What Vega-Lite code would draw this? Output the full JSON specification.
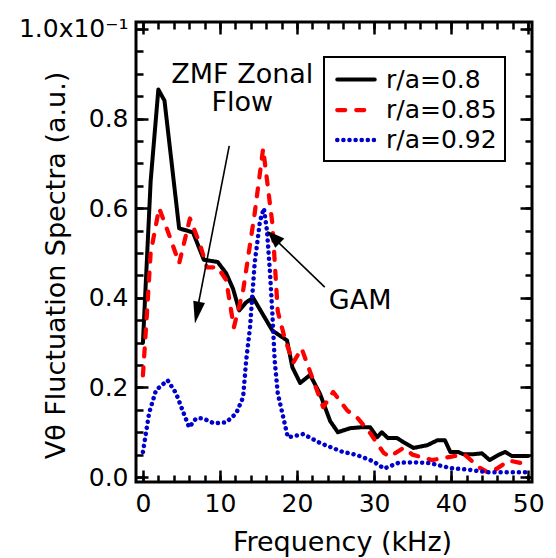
{
  "$schema": "https://vega.github.io/schema/vega-lite/v6.json",
  "width": 396,
  "height": 460,
  "autosize": {"type": "none"},
  "padding": {"left": 136, "top": 22, "right": 24, "bottom": 76},
  "background": "white",
  "config": {
    "view": {"stroke": "black", "strokeWidth": 3},
    "font": "DejaVu Sans",
    "axis": {
      "grid": false,
      "domain": false,
      "tickColor": "black",
      "tickWidth": 2.5,
      "labelColor": "black",
      "titleColor": "black",
      "labelFont": "DejaVu Sans",
      "titleFont": "DejaVu Sans",
      "labelFontSize": 25,
      "titleFontSize": 27,
      "titleFontWeight": "normal",
      "labelFlush": false,
      "labelOverlap": false
    }
  },
  "datasets": {
    "spec": [
      {"s": "r/a=0.8", "f": 0, "v": 0.30},
      {"s": "r/a=0.8", "f": 0.5, "v": 0.48},
      {"s": "r/a=0.8", "f": 1.0, "v": 0.66},
      {"s": "r/a=0.8", "f": 2.0, "v": 0.865},
      {"s": "r/a=0.8", "f": 2.8, "v": 0.84},
      {"s": "r/a=0.8", "f": 4.7, "v": 0.555},
      {"s": "r/a=0.8", "f": 6.5, "v": 0.546},
      {"s": "r/a=0.8", "f": 7.9, "v": 0.485},
      {"s": "r/a=0.8", "f": 9.7, "v": 0.48},
      {"s": "r/a=0.8", "f": 10.8, "v": 0.455},
      {"s": "r/a=0.8", "f": 11.7, "v": 0.42},
      {"s": "r/a=0.8", "f": 12.5, "v": 0.372},
      {"s": "r/a=0.8", "f": 13.4, "v": 0.39},
      {"s": "r/a=0.8", "f": 14.3, "v": 0.40},
      {"s": "r/a=0.8", "f": 16.8, "v": 0.327},
      {"s": "r/a=0.8", "f": 18.7, "v": 0.305},
      {"s": "r/a=0.8", "f": 19.4, "v": 0.245},
      {"s": "r/a=0.8", "f": 20.4, "v": 0.21},
      {"s": "r/a=0.8", "f": 21.7, "v": 0.228},
      {"s": "r/a=0.8", "f": 23.0, "v": 0.185},
      {"s": "r/a=0.8", "f": 24.3, "v": 0.125},
      {"s": "r/a=0.8", "f": 25.3, "v": 0.10},
      {"s": "r/a=0.8", "f": 26.9, "v": 0.109},
      {"s": "r/a=0.8", "f": 28.2, "v": 0.111},
      {"s": "r/a=0.8", "f": 29.5, "v": 0.111},
      {"s": "r/a=0.8", "f": 30.4, "v": 0.089},
      {"s": "r/a=0.8", "f": 31.0, "v": 0.10},
      {"s": "r/a=0.8", "f": 31.8, "v": 0.087},
      {"s": "r/a=0.8", "f": 33.0, "v": 0.087},
      {"s": "r/a=0.8", "f": 33.8, "v": 0.078},
      {"s": "r/a=0.8", "f": 35.1, "v": 0.065},
      {"s": "r/a=0.8", "f": 36.9, "v": 0.071},
      {"s": "r/a=0.8", "f": 38.2, "v": 0.082},
      {"s": "r/a=0.8", "f": 39.2, "v": 0.082},
      {"s": "r/a=0.8", "f": 39.9, "v": 0.056},
      {"s": "r/a=0.8", "f": 40.9, "v": 0.056},
      {"s": "r/a=0.8", "f": 41.6, "v": 0.051},
      {"s": "r/a=0.8", "f": 42.9, "v": 0.051},
      {"s": "r/a=0.8", "f": 44.0, "v": 0.053},
      {"s": "r/a=0.8", "f": 45.0, "v": 0.038},
      {"s": "r/a=0.8", "f": 46.1, "v": 0.049},
      {"s": "r/a=0.8", "f": 47.0, "v": 0.056},
      {"s": "r/a=0.8", "f": 47.9, "v": 0.047},
      {"s": "r/a=0.8", "f": 50.0, "v": 0.047},

      {"s": "r/a=0.85", "f": 0, "v": 0.227},
      {"s": "r/a=0.85", "f": 0.5, "v": 0.36},
      {"s": "r/a=0.85", "f": 1.0, "v": 0.50},
      {"s": "r/a=0.85", "f": 2.1, "v": 0.60},
      {"s": "r/a=0.85", "f": 3.2, "v": 0.55},
      {"s": "r/a=0.85", "f": 4.7, "v": 0.477},
      {"s": "r/a=0.85", "f": 6.1, "v": 0.577},
      {"s": "r/a=0.85", "f": 7.4, "v": 0.52},
      {"s": "r/a=0.85", "f": 8.3, "v": 0.468},
      {"s": "r/a=0.85", "f": 9.7, "v": 0.468},
      {"s": "r/a=0.85", "f": 10.8, "v": 0.44},
      {"s": "r/a=0.85", "f": 11.8, "v": 0.334},
      {"s": "r/a=0.85", "f": 13.0, "v": 0.416},
      {"s": "r/a=0.85", "f": 14.5, "v": 0.588},
      {"s": "r/a=0.85", "f": 15.6, "v": 0.733},
      {"s": "r/a=0.85", "f": 16.8, "v": 0.566},
      {"s": "r/a=0.85", "f": 17.5, "v": 0.37},
      {"s": "r/a=0.85", "f": 18.4, "v": 0.31},
      {"s": "r/a=0.85", "f": 19.5, "v": 0.255},
      {"s": "r/a=0.85", "f": 20.6, "v": 0.287},
      {"s": "r/a=0.85", "f": 22.1, "v": 0.216},
      {"s": "r/a=0.85", "f": 23.4, "v": 0.156},
      {"s": "r/a=0.85", "f": 24.7, "v": 0.19},
      {"s": "r/a=0.85", "f": 26.5, "v": 0.149},
      {"s": "r/a=0.85", "f": 27.9, "v": 0.131},
      {"s": "r/a=0.85", "f": 29.5, "v": 0.098},
      {"s": "r/a=0.85", "f": 31.2, "v": 0.055},
      {"s": "r/a=0.85", "f": 32.0, "v": 0.045},
      {"s": "r/a=0.85", "f": 33.8, "v": 0.065},
      {"s": "r/a=0.85", "f": 35.0, "v": 0.05},
      {"s": "r/a=0.85", "f": 37.5, "v": 0.038},
      {"s": "r/a=0.85", "f": 39.9, "v": 0.045},
      {"s": "r/a=0.85", "f": 41.7, "v": 0.051},
      {"s": "r/a=0.85", "f": 43.6, "v": 0.022},
      {"s": "r/a=0.85", "f": 45.0, "v": 0.008},
      {"s": "r/a=0.85", "f": 47.5, "v": 0.037},
      {"s": "r/a=0.85", "f": 49.4, "v": 0.03},
      {"s": "r/a=0.85", "f": 50.0, "v": 0.025},

      {"s": "r/a=0.92", "f": 0, "v": 0.056},
      {"s": "r/a=0.92", "f": 0.8, "v": 0.143},
      {"s": "r/a=0.92", "f": 1.7, "v": 0.194},
      {"s": "r/a=0.92", "f": 3.2, "v": 0.216},
      {"s": "r/a=0.92", "f": 4.3, "v": 0.187},
      {"s": "r/a=0.92", "f": 5.3, "v": 0.142},
      {"s": "r/a=0.92", "f": 6.0, "v": 0.111},
      {"s": "r/a=0.92", "f": 6.9, "v": 0.131},
      {"s": "r/a=0.92", "f": 7.8, "v": 0.131},
      {"s": "r/a=0.92", "f": 9.2, "v": 0.12},
      {"s": "r/a=0.92", "f": 10.8, "v": 0.122},
      {"s": "r/a=0.92", "f": 12.1, "v": 0.142},
      {"s": "r/a=0.92", "f": 13.0, "v": 0.178},
      {"s": "r/a=0.92", "f": 13.4, "v": 0.26},
      {"s": "r/a=0.92", "f": 13.9, "v": 0.334},
      {"s": "r/a=0.92", "f": 14.5, "v": 0.477},
      {"s": "r/a=0.92", "f": 15.2, "v": 0.572},
      {"s": "r/a=0.92", "f": 15.7, "v": 0.60},
      {"s": "r/a=0.92", "f": 16.1, "v": 0.55},
      {"s": "r/a=0.92", "f": 16.5, "v": 0.454},
      {"s": "r/a=0.92", "f": 16.8, "v": 0.365},
      {"s": "r/a=0.92", "f": 17.1, "v": 0.26},
      {"s": "r/a=0.92", "f": 17.5, "v": 0.187},
      {"s": "r/a=0.92", "f": 18.1, "v": 0.142},
      {"s": "r/a=0.92", "f": 18.8, "v": 0.089},
      {"s": "r/a=0.92", "f": 19.5, "v": 0.091},
      {"s": "r/a=0.92", "f": 20.8, "v": 0.096},
      {"s": "r/a=0.92", "f": 23.0, "v": 0.076},
      {"s": "r/a=0.92", "f": 25.8, "v": 0.057},
      {"s": "r/a=0.92", "f": 27.8, "v": 0.049},
      {"s": "r/a=0.92", "f": 29.9, "v": 0.035},
      {"s": "r/a=0.92", "f": 31.3, "v": 0.019},
      {"s": "r/a=0.92", "f": 33.2, "v": 0.032},
      {"s": "r/a=0.92", "f": 35.1, "v": 0.033},
      {"s": "r/a=0.92", "f": 37.3, "v": 0.031},
      {"s": "r/a=0.92", "f": 39.9, "v": 0.02},
      {"s": "r/a=0.92", "f": 42.5, "v": 0.016},
      {"s": "r/a=0.92", "f": 44.7, "v": 0.011},
      {"s": "r/a=0.92", "f": 46.8, "v": 0.011},
      {"s": "r/a=0.92", "f": 50.0, "v": 0.011}
    ],
    "labels": [
      {"t": "ZMF Zonal", "f": 12.9, "v": 0.898},
      {"t": "Flow", "f": 12.9, "v": 0.835},
      {"t": "GAM", "f": 28.2, "v": 0.392}
    ],
    "shafts": [
      {"a": "ZMF", "f": 11.2, "v": 0.739, "f2": 6.9, "v2": 0.36},
      {"a": "GAM", "f": 23.6, "v": 0.424, "f2": 16.6, "v2": 0.54}
    ],
    "tipZMF": [{"f": 6.75, "v": 0.343}],
    "tipGAM": [{"f": 16.1, "v": 0.55}]
  },
  "layer": [
    {
      "data": {"name": "spec"},
      "mark": {"type": "line", "strokeCap": "round", "strokeJoin": "round"},
      "encoding": {
        "x": {
          "field": "f", "type": "quantitative",
          "scale": {"domain": [-0.9, 50.5], "nice": false, "zero": false},
          "axis": {
            "orient": "bottom",
            "values": [0, 10, 20, 30, 40, 50],
            "tickSize": -12,
            "labelPadding": 21,
            "title": "Frequency (kHz)",
            "titleX": 206,
            "titleY": 68,
            "titleBaseline": "alphabetic"
          }
        },
        "y": {
          "field": "v", "type": "quantitative",
          "scale": {"domain": [-0.011, 1.0156], "nice": false, "zero": false},
          "axis": {
            "orient": "left",
            "values": [0, 0.2, 0.4, 0.6, 0.8, 1.0],
            "tickSize": -12,
            "labelPadding": 20,
            "labelExpr": "datum.value >= 0.99 ? '1.0x10⁻¹' : format(datum.value, '.1f')",
            "title": "Vθ Fluctuation Spectra (a.u.)",
            "titleX": -72,
            "titleY": 243,
            "titleBaseline": "alphabetic"
          }
        },
        "color": {
          "field": "s", "type": "nominal",
          "scale": {"domain": ["r/a=0.8", "r/a=0.85", "r/a=0.92"], "range": ["#000000", "#ff0000", "#0000cc"]},
          "legend": {
            "orient": "none",
            "legendX": 188,
            "legendY": 35,
            "title": null,
            "symbolType": "M-1.5,0L1.5,0",
            "symbolSize": 625,
            "symbolOffset": 9,
            "labelFont": "DejaVu Sans",
            "labelFontSize": 25,
            "labelColor": "black",
            "labelOffset": 15,
            "labelLimit": 300,
            "padding": 8,
            "rowPadding": 2,
            "strokeColor": "black",
            "fillColor": "white",
            "encode": {
              "legend": {"update": {"strokeWidth": {"value": 2}}},
              "symbols": {"update": {"strokeCap": {"value": "round"}, "fill": {"value": "transparent"}}}
            }
          }
        },
        "strokeDash": {
          "field": "s", "type": "nominal",
          "scale": {"domain": ["r/a=0.8", "r/a=0.85", "r/a=0.92"], "range": [[1, 0], [8, 11], [0.1, 6]]}
        },
        "strokeWidth": {
          "field": "s", "type": "nominal",
          "scale": {"domain": ["r/a=0.8", "r/a=0.85", "r/a=0.92"], "range": [4, 4.5, 2.4]}
        }
      }
    },
    {
      "data": {"name": "spec"},
      "mark": {"type": "point", "opacity": 0},
      "encoding": {
        "x": {
          "field": "f", "type": "quantitative",
          "scale": {"domain": [-0.9, 50.5], "nice": false, "zero": false},
          "axis": {"orient": "bottom", "values": [0,2,4,6,8,10,12,14,16,18,20,22,24,26,28,30,32,34,36,38,40,42,44,46,48,50], "tickSize": -7, "labels": false, "title": null}
        },
        "y": {
          "field": "v", "type": "quantitative",
          "scale": {"domain": [-0.011, 1.0156], "nice": false, "zero": false},
          "axis": {"orient": "left", "values": [0,0.05,0.1,0.15,0.2,0.25,0.3,0.35,0.4,0.45,0.5,0.55,0.6,0.65,0.7,0.75,0.8,0.85,0.9,0.95,1.0], "tickSize": -7, "labels": false, "title": null}
        }
      }
    },
    {
      "data": {"name": "spec"},
      "mark": {"type": "point", "opacity": 0},
      "encoding": {
        "x": {
          "field": "f", "type": "quantitative",
          "scale": {"domain": [-0.9, 50.5], "nice": false, "zero": false},
          "axis": {"orient": "top", "values": [0, 10, 20, 30, 40, 50], "tickSize": -12, "labels": false, "title": null}
        },
        "y": {
          "field": "v", "type": "quantitative",
          "scale": {"domain": [-0.011, 1.0156], "nice": false, "zero": false},
          "axis": {"orient": "right", "values": [0, 0.2, 0.4, 0.6, 0.8, 1.0], "tickSize": -12, "labels": false, "title": null}
        }
      }
    },
    {
      "data": {"name": "spec"},
      "mark": {"type": "point", "opacity": 0},
      "encoding": {
        "x": {
          "field": "f", "type": "quantitative",
          "scale": {"domain": [-0.9, 50.5], "nice": false, "zero": false},
          "axis": {"orient": "top", "values": [0,2,4,6,8,10,12,14,16,18,20,22,24,26,28,30,32,34,36,38,40,42,44,46,48,50], "tickSize": -7, "labels": false, "title": null}
        },
        "y": {
          "field": "v", "type": "quantitative",
          "scale": {"domain": [-0.011, 1.0156], "nice": false, "zero": false},
          "axis": {"orient": "right", "values": [0,0.05,0.1,0.15,0.2,0.25,0.3,0.35,0.4,0.45,0.5,0.55,0.6,0.65,0.7,0.75,0.8,0.85,0.9,0.95,1.0], "tickSize": -7, "labels": false, "title": null}
        }
      }
    },
    {
      "data": {"name": "shafts"},
      "mark": {"type": "rule", "color": "black", "strokeWidth": 1.6},
      "encoding": {
        "x": {"field": "f", "type": "quantitative", "axis": null},
        "y": {"field": "v", "type": "quantitative", "axis": null},
        "x2": {"field": "f2"},
        "y2": {"field": "v2"}
      }
    },
    {
      "data": {"name": "tipZMF"},
      "mark": {"type": "point", "shape": "M0,0L0.27,1L-0.27,1Z", "size": 1936, "angle": 191, "filled": true, "color": "black", "opacity": 1},
      "encoding": {
        "x": {"field": "f", "type": "quantitative", "axis": null},
        "y": {"field": "v", "type": "quantitative", "axis": null}
      }
    },
    {
      "data": {"name": "tipGAM"},
      "mark": {"type": "point", "shape": "M0,0L0.36,1L-0.36,1Z", "size": 1296, "angle": 314.5, "filled": true, "color": "black", "opacity": 1},
      "encoding": {
        "x": {"field": "f", "type": "quantitative", "axis": null},
        "y": {"field": "v", "type": "quantitative", "axis": null}
      }
    },
    {
      "data": {"name": "labels"},
      "mark": {"type": "text", "font": "DejaVu Sans", "fontSize": 27, "color": "black", "align": "center", "baseline": "middle"},
      "encoding": {
        "x": {"field": "f", "type": "quantitative", "axis": null},
        "y": {"field": "v", "type": "quantitative", "axis": null},
        "text": {"field": "t"}
      }
    }
  ],
  "resolve": {"axis": {"x": "independent", "y": "independent"}}
}
